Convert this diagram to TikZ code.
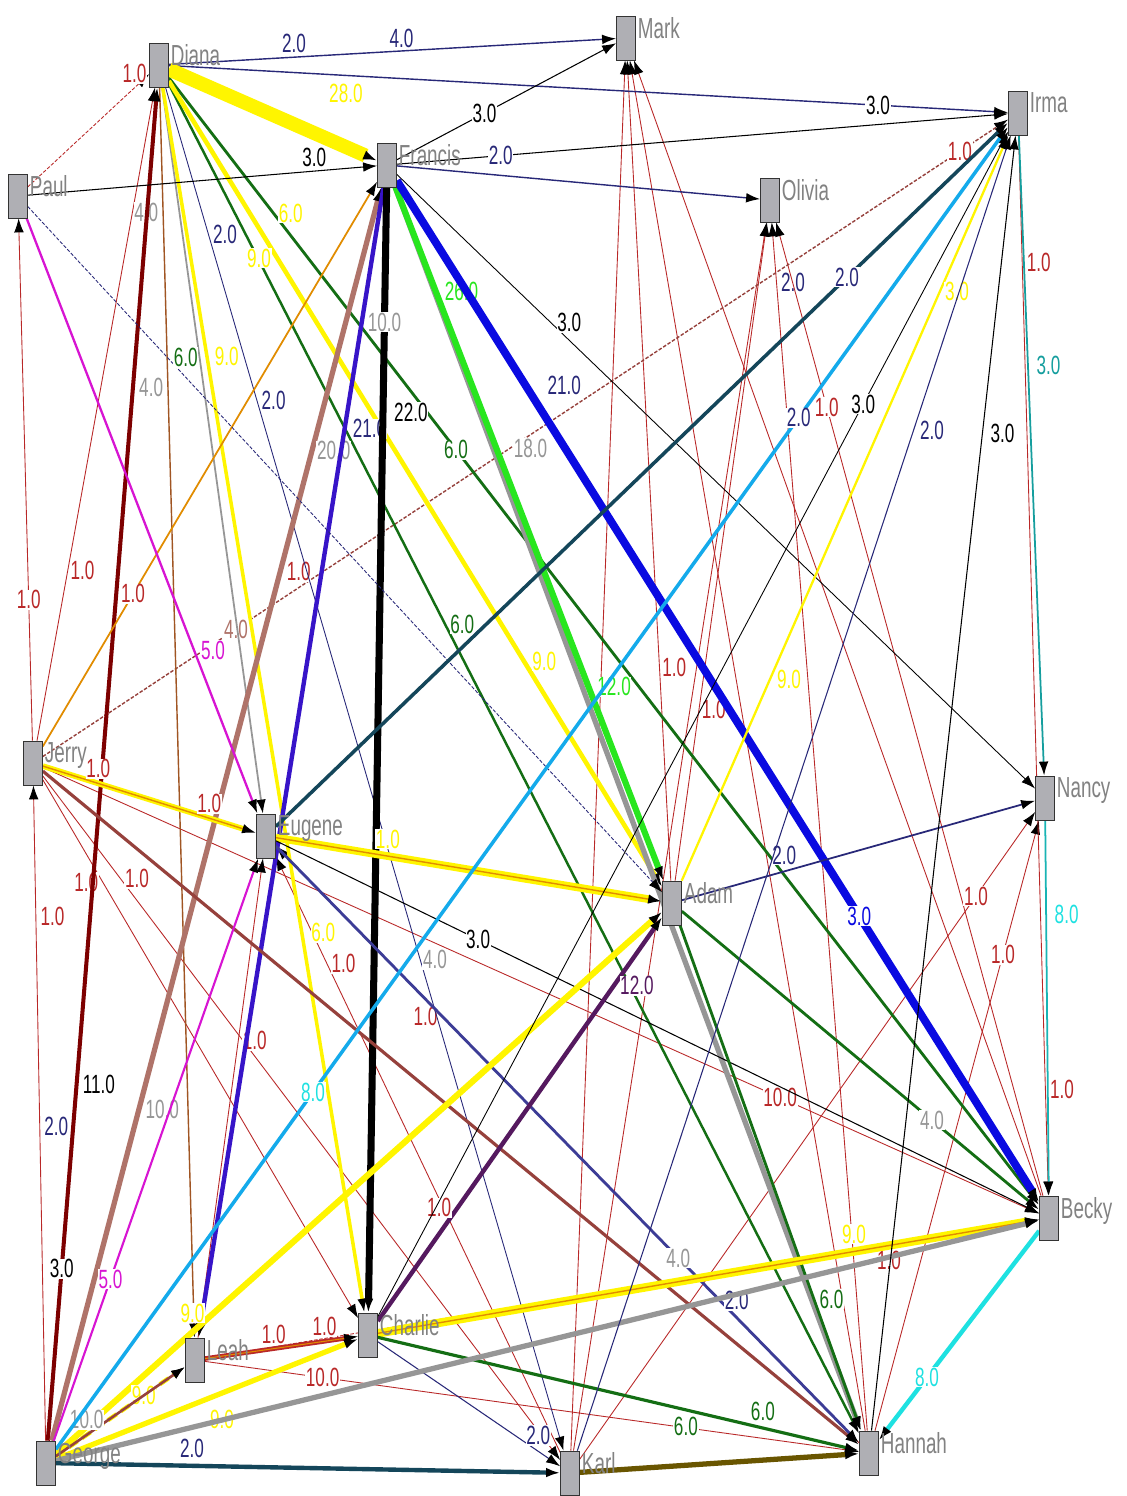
\documentclass[tikz,border=0pt]{standalone}
\usepackage{fontspec}
\setmainfont{Liberation Sans}[FakeStretch=0.65]
\usetikzlibrary{arrows.meta}
\pgfdeclarelayer{front}
\pgfsetlayers{main,front}
\definecolor{navyline}{RGB}{40,40,120}
\definecolor{redline}{RGB}{185,40,40}
\definecolor{yelline}{RGB}{255,245,0}
\definecolor{grnline}{RGB}{20,110,20}
\definecolor{limeline}{RGB}{40,230,30}
\definecolor{blueline}{RGB}{10,10,225}
\definecolor{indline}{RGB}{55,20,200}
\definecolor{tealline}{RGB}{20,70,90}
\definecolor{skyline}{RGB}{20,170,235}
\definecolor{cyanline}{RGB}{30,225,225}
\definecolor{rosyline}{RGB}{175,115,105}
\definecolor{maroonline}{RGB}{125,0,0}
\definecolor{brownline}{RGB}{160,85,35}
\definecolor{magline}{RGB}{215,20,210}
\definecolor{purpline}{RGB}{85,25,95}
\definecolor{grayline}{RGB}{150,150,150}
\definecolor{orgline}{RGB}{225,140,0}
\definecolor{oliveline}{RGB}{105,85,0}
\definecolor{rustline}{RGB}{150,65,60}
\definecolor{slateline}{RGB}{60,60,150}
\definecolor{namegray}{RGB}{130,130,130}
\definecolor{boxgray}{RGB}{175,175,180}

\begin{document}
\begin{tikzpicture}[x=0.02cm, y=-0.02cm,
  person/.style={draw=black!80, fill=boxgray, minimum width=0.38cm, minimum height=0.88cm, inner sep=0pt},
  who/.style={anchor=north west, text=namegray, inner sep=1pt, font=\fontsize{16.5}{16.5}\selectfont},
  lnk/.style={-{Latex[black,length=8pt,width=5.5pt]}},
  wt/.style={fill=white, inner sep=0.4pt, font=\fontsize{15}{15}\selectfont}]
  \useasboundingbox (0,0) rectangle (1126,1496);
  \fill[white] (0,0) rectangle (1126,1496);
  % actors, kept above the ties
  \begin{pgfonlayer}{front}
  \node[person, label={[who]north east:Diana}] (Diana) at (159,65) {};
  \node[person, label={[who]north east:Mark}] (Mark) at (626,38) {};
  \node[person, label={[who]north east:Irma}] (Irma) at (1018,113) {};
  \node[person, label={[who]north east:Francis}] (Francis) at (387,165) {};
  \node[person, label={[who]north east:Olivia}] (Olivia) at (770,200) {};
  \node[person, label={[who]north east:Paul}] (Paul) at (18,196) {};
  \node[person, label={[who]north east:Jerry}] (Jerry) at (33,763) {};
  \node[person, label={[who]north east:Nancy}] (Nancy) at (1045,798) {};
  \node[person, label={[who]north east:Eugene}] (Eugene) at (266,836) {};
  \node[person, label={[who]north east:Adam}] (Adam) at (672,903) {};
  \node[person, label={[who]north east:Becky}] (Becky) at (1049,1218) {};
  \node[person, label={[who]north east:Charlie}] (Charlie) at (368,1335) {};
  \node[person, label={[who]north east:Leah}] (Leah) at (195,1360) {};
  \node[person, label={[who]north east:George}] (George) at (46,1463) {};
  \node[person, label={[who]north east:Karl}] (Karl) at (570,1473) {};
  \node[person, label={[who]north east:Hannah}] (Hannah) at (869,1453) {};
  \end{pgfonlayer}

  % thin red ties
  \draw[lnk, redline, line width=0.5pt] (Karl) -- (Mark);
  \draw[lnk, redline, line width=0.5pt] (Hannah) -- (Mark);
  \draw[lnk, redline, line width=0.5pt] (Becky) -- (Mark);
  \draw[lnk, redline, line width=0.5pt] (Karl) -- (Olivia);
  \draw[lnk, redline, line width=0.5pt] (Hannah) -- node[wt, pos=0.95, right=2pt, text=navyline]{2.0} (Olivia);
  \draw[lnk, redline, line width=0.5pt] (Becky) -- node[wt, pos=0.81, text=redline]{1.0} (Olivia);
  \draw[lnk, redline, line width=0.5pt] (Adam) -- node[wt, pos=0.26, right=1pt, text=redline]{1.0} (Mark);
  \draw[lnk, redline, line width=0.5pt] (Adam) -- node[wt, pos=0.26, right=1pt, text=redline]{1.0} (Olivia);
  \draw[lnk, redline, line width=0.5pt] (Karl) -- node[wt, pos=0.87, text=redline]{1.0} (Nancy);
  \draw[lnk, redline, line width=0.5pt] (Hannah) -- node[wt, pos=0.78, text=redline]{1.0} (Nancy);
  \draw[lnk, redline, line width=0.5pt] (Irma) -- node[wt, pos=0.12, right=2pt, text=redline]{1.0} node[wt, pos=0.9, right=2pt, text=redline]{1.0} (Becky);
  \draw[lnk, redline, line width=0.5pt] (Jerry) -- node[wt, pos=0.26, right=1pt, text=redline]{1.0} (Diana);
  \draw[lnk, redline, line width=0.5pt] (Jerry) -- node[wt, pos=0.27, text=redline]{1.0} (Paul);
  \draw[lnk, redline, line width=0.5pt] (Jerry) -- node[wt, pos=0.15, right=2pt, text=redline]{1.0} (Karl);
  \draw[lnk, redline, line width=0.5pt] (Jerry) -- node[wt, pos=0.19, left=2pt, text=redline]{1.0} (Charlie);
  \draw[lnk, redline, line width=0.5pt] (Jerry) -- node[wt, pos=0.74, text=redline]{10.0} (Becky);
  \draw[lnk, redline, line width=0.5pt] (George) -- node[wt, pos=0.48, right=2pt, text=navyline]{2.0} node[wt, pos=0.8, right=2pt, text=redline]{1.0} (Jerry);
  \draw[lnk, redline, line width=0.5pt] (Karl) -- node[wt, pos=0.82, right=2pt, text=redline]{1.0} (Eugene);
  \draw[lnk, redline, line width=0.5pt] (Hannah) -- node[wt, pos=0.715, left=2pt, text=redline]{1.0} (Eugene);
  \draw[lnk, redline, line width=0.5pt] (Leah) -- node[wt, pos=0.62, right=2pt, text=redline]{1.0} (Eugene);
  \draw[lnk, redline, line width=0.5pt] (Leah) -- node[wt, pos=0.18, text=redline]{10.0} (Hannah);
  \draw[lnk, redline, line width=0.5pt, dash pattern=on 2pt off 1pt] (Leah) -- node[wt, pos=0.82, below=3pt, text=redline]{1.0} (Becky);
  \draw[lnk, redline, line width=0.5pt, dash pattern=on 2pt off 1pt] (Paul) -- node[wt, pos=0.88, above=2pt, text=redline]{1.0} (Diana);
  \draw[lnk, rustline, line width=0.8pt, dash pattern=on 2pt off 1pt] (Jerry) -- node[wt, pos=0.2, text=rosyline]{4.0} node[wt, pos=0.265, above=3pt, text=redline]{1.0} node[wt, pos=0.95, text=redline]{1.0} (Irma);

  % Diana's ties
  \draw[lnk, navyline, line width=0.8pt] (Diana) -- node[wt, pos=0.28, above=2pt, text=navyline]{2.0} node[wt, pos=0.52, above=1pt, text=navyline]{4.0} (Mark);
  \draw[lnk, navyline, line width=0.8pt] (Diana) -- node[wt, pos=0.845, text=black]{3.0} (Irma);
  \draw[lnk, navyline, line width=0.5pt] (Diana) -- node[wt, pos=0.108, right=2pt, text=navyline]{2.0} node[wt, pos=0.23, right=2pt, text=navyline]{2.0} node[wt, pos=0.64, right=1pt, text=grayline]{4.0} (Karl);
  \draw[lnk, brownline, line width=0.8pt] (Diana) -- node[wt, pos=0.1, left=2pt, text=grayline]{4.0} node[wt, pos=0.24, left=2pt, text=grayline]{4.0} (Leah);
  \draw[lnk, grayline, line width=1pt] (Diana) -- (Eugene);
  \draw[lnk, grnline, line width=1.6pt] (Diana) -- node[wt, pos=0.12, right=2pt, text=yelline]{6.0} node[wt, pos=0.33, text=grnline]{6.0} (Becky);
  \draw[lnk, grnline, line width=1.4pt] (Diana) -- node[wt, pos=0.4, right=2pt, text=grnline]{6.0} (Hannah);
  \draw[lnk, yelline, line width=2.6pt] (Diana) -- node[wt, pos=0.22, left=2pt, text=yelline]{9.0} node[wt, pos=0.72, right=3pt, text=yelline]{9.0} (Adam);
  \draw[lnk, yelline, line width=2pt] (Diana) -- node[wt, pos=0.22, right=3pt, text=yelline]{9.0} node[wt, pos=0.69, right=4pt, text=yelline]{6.0} (Charlie);
  \draw[lnk, yelline, line width=8pt] (Diana) -- node[pos=0.85, above=18pt, text=yelline, font=\fontsize{15}{15}\selectfont]{28.0} (Francis);
  \draw[lnk, maroonline, line width=2.3pt] (George) -- node[wt, pos=0.127, text=black]{3.0} node[wt, pos=0.263, right=2pt, text=black]{11.0} (Diana);

  % Francis's ties
  \draw[lnk, black, line width=0.6pt] (Paul) -- node[wt, pos=0.82, above=2pt]{3.0} (Francis);
  \draw[lnk, black, line width=0.6pt] (Francis) -- node[wt, pos=0.4]{3.0} (Mark);
  \draw[lnk, black, line width=0.6pt] (Francis) -- node[wt, pos=0.17, text=navyline]{2.0} (Irma);
  \draw[lnk, navyline, line width=0.8pt] (Francis) -- (Olivia);
  \draw[lnk, black, line width=0.5pt] (Francis) -- node[wt, pos=0.27, above=4pt]{3.0} (Nancy);
  \draw[lnk, orgline, line width=1pt] (Jerry) -- node[wt, pos=0.27, text=redline]{1.0} (Francis);
  \draw[lnk, rosyline, line width=3pt] (George) -- node[wt, pos=0.264, right=2pt, text=grayline]{10.0} node[wt, pos=0.79, right=1pt, text=grayline]{20.0} (Francis);
  \draw[lnk, indline, line width=2.5pt] (Francis) -- node[wt, pos=0.21, right=3pt, text=navyline]{21.0} (Leah);
  \draw[lnk, black, line width=4pt] (Francis) -- node[wt, pos=0.12, text=grayline]{10.0} node[wt, pos=0.2, right=4pt]{22.0} (Charlie);
  \draw[lnk, grayline, line width=3pt] (Francis) -- node[wt, pos=0.21, right=10pt, text=grayline]{18.0} (Hannah);
  \draw[lnk, limeline, line width=3.5pt] (Francis) -- node[wt, pos=0.15, right=3pt, text=limeline]{26.0} node[wt, pos=0.72, right=3pt]{12.0} (Adam);
  \draw[lnk, blueline, line width=4.5pt] (Francis) -- node[wt, pos=0.2, right=10pt, text=navyline]{21.0} node[wt, pos=0.72]{3.0} (Becky);

  % Paul, Jerry and Eugene
  \draw[lnk, magline, line width=1.3pt] (Paul) -- node[wt, pos=0.725, right=3pt, text=magline]{5.0} (Eugene);
  \draw[lnk, navyline, line width=0.5pt, dash pattern=on 2pt off 1pt] (Paul) -- node[wt, pos=0.22, right=3pt, text=grnline]{6.0} (Adam);
  \draw[lnk, yelline, double=orgline, double distance=0.8pt, line width=1.2pt] (Jerry) -- node[wt, pos=0.26, above=2pt, text=redline]{1.0} node[wt, pos=0.78, above=2pt, text=redline]{1.0} (Eugene);
  \draw[lnk, rustline, line width=1.8pt] (Jerry) -- (Hannah);
  \draw[lnk, magline, line width=1.2pt] (George) -- node[wt, pos=0.277, text=magline]{5.0} (Eugene);
  \draw[lnk, yelline, double=orgline, double distance=0.8pt, line width=1.8pt] (Eugene) -- node[wt, pos=0.29, above=3pt, text=yelline]{1.0} (Adam);
  \draw[lnk, tealline, line width=2pt] (Eugene) -- node[wt, pos=0.78, text=navyline]{2.0} (Irma);
  \draw[lnk, slateline, line width=1.6pt] (Eugene) -- node[wt, pos=0.69, text=grayline]{4.0} node[wt, pos=0.79, above=3pt, text=navyline]{2.0} (Hannah);
  \draw[lnk, black, line width=0.6pt] (Eugene) -- node[wt, pos=0.265]{3.0} (Becky);

  % Adam's ties
  \draw[lnk, yelline, line width=3.5pt] (George) -- node[wt, pos=0.26, left=3pt, text=yelline]{9.0} (Adam);
  \draw[lnk, purpline, line width=2.5pt] (Charlie) -- node[wt, pos=0.28, left=2pt, text=redline]{1.0} node[wt, pos=0.83, right=2pt]{12.0} (Adam);
  \draw[lnk, navyline, line width=1pt] (Adam) -- node[wt, pos=0.29, above=3pt, text=navyline]{2.0} (Nancy);
  \draw[lnk, grnline, line width=1.6pt] (Adam) -- node[wt, pos=0.74, right=2pt, text=grnline]{6.0} (Hannah);
  \draw[lnk, grnline, line width=1.6pt] (Adam) -- node[wt, pos=0.7, text=grayline]{4.0} (Becky);
  \draw[lnk, yelline, line width=1.3pt] (Adam) -- node[wt, pos=0.27, right=3pt, text=yelline]{9.0} node[wt, pos=0.79, right=2pt]{3.0} (Irma);

  % Charlie, Leah and George
  \draw[lnk, redline, double=orgline, double distance=0.6pt, line width=1pt] (Leah) -- node[wt, pos=0.45, above=2pt, text=redline]{1.0} node[wt, pos=0.78, above=2pt, text=redline]{1.0} (Charlie);
  \draw[lnk, yelline, double=orgline, double distance=0.8pt, line width=2pt] (Charlie) -- node[wt, pos=0.72, above=3pt, text=yelline]{9.0} (Becky);
  \draw[lnk, grnline, line width=1.8pt] (Charlie) -- node[wt, pos=0.64, below=3pt, text=grnline]{6.0} node[wt, pos=0.8, above=3pt, text=grnline]{6.0} (Hannah);
  \draw[lnk, navyline, line width=0.6pt] (Charlie) -- node[wt, pos=0.88, above=3pt, text=navyline]{2.0} (Karl);
  \draw[lnk, black, line width=0.5pt] (Charlie) -- node[wt, pos=0.77]{3.0} (Irma);
  \draw[lnk, yelline, line width=3pt] (George) -- node[wt, pos=0.55, below=8pt, text=yelline]{9.0} (Charlie);
  \draw[lnk, yelline, line width=2.5pt, dash pattern=on 6pt off 3pt] (George) -- node[wt, pos=0.68, text=yelline]{9.0} (Leah);
  \draw[lnk, rustline, line width=1.5pt] (George) -- node[wt, pos=0.41, left=2pt, text=grayline]{10.0} (Leah);
  \draw[lnk, grayline, line width=3pt] (George) -- (Becky);
  \draw[lnk, tealline, line width=2.5pt] (George) -- node[wt, pos=0.27, above=3pt, text=navyline]{2.0} (Karl);
  \draw[lnk, skyline, line width=2pt] (George) -- node[wt, pos=0.27, text=cyanline]{8.0} node[wt, pos=0.78, text=navyline]{2.0} (Irma);

  % Irma, Nancy, Becky, Karl and Hannah
  \draw[lnk, cyanline!70!black, line width=1pt] (Irma) -- node[wt, pos=0.36, right=4pt]{3.0} (Nancy);
  \draw[lnk, cyanline!80!black, line width=1pt] (Nancy) -- node[wt, pos=0.25, right=4pt, text=cyanline]{8.0} (Becky);
  \draw[lnk, cyanline, line width=2.5pt] (Becky) -- node[wt, pos=0.7, text=cyanline]{8.0} (Hannah);
  \draw[lnk, black, line width=0.6pt] (Hannah) -- node[wt, pos=0.77, right=4pt]{3.0} (Irma);
  \draw[lnk, navyline, line width=0.6pt] (Karl) -- node[wt, pos=0.776, right=3pt, text=navyline]{2.0} (Irma);
  \draw[lnk, oliveline, line width=3pt] (Karl) -- (Hannah);
\end{tikzpicture}
\end{document}
